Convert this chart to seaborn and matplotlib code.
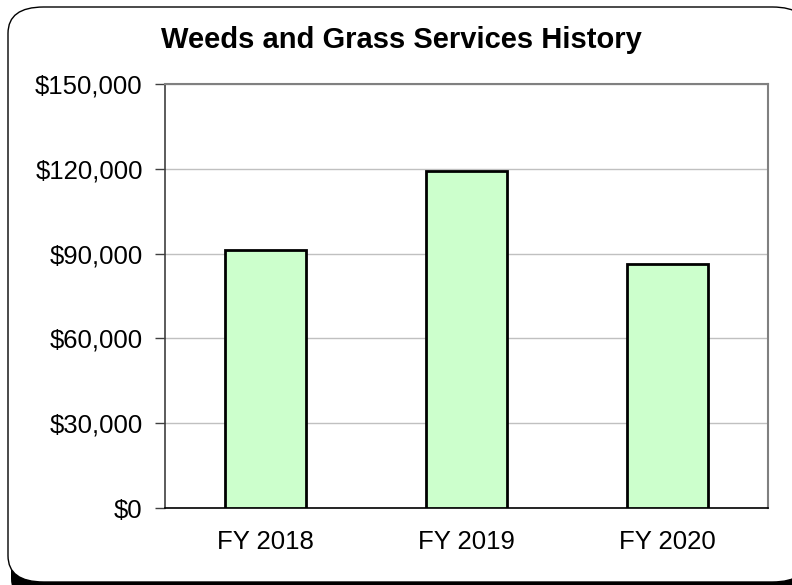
import matplotlib
matplotlib.use("Agg")
import matplotlib.pyplot as plt
import seaborn as sns
from matplotlib.patches import FancyBboxPatch
from matplotlib.ticker import FuncFormatter, FixedLocator

# Data
years = ['FY 2018', 'FY 2019', 'FY 2020']
costs = [91300, 119300, 86300]

sns.set_style('white')
plt.rcParams['font.family'] = ['Liberation Sans', 'DejaVu Sans']
plt.rcParams['text.color'] = 'black'
plt.rcParams['xtick.color'] = 'black'
plt.rcParams['ytick.color'] = 'black'

fig = plt.figure(figsize=(7.92, 5.85), dpi=100)
W, H = 792, 585

# Rounded border with shadow (figure pixel coordinates)
shadow = FancyBboxPatch((11 / W, -20 / H), 800 / W, 596 / H,
                        boxstyle='round,pad=0,rounding_size=0.045',
                        transform=fig.transFigure, facecolor='black',
                        edgecolor='none', zorder=0)
border = FancyBboxPatch((8 / W, 3 / H), 800 / W, 575 / H,
                        boxstyle='round,pad=0,rounding_size=0.045',
                        transform=fig.transFigure, facecolor='white',
                        edgecolor='black', linewidth=1, zorder=1)
fig.patches.extend([shadow, border])

ax = fig.add_axes([165 / W, 77 / H, 603 / W, 424 / H])
ax.set_zorder(2)

sns.barplot(x=years, y=costs, ax=ax, color='#CCFFCC', saturation=1,
            edgecolor='black', linewidth=2, width=0.4, zorder=3)

ax.set_ylim(0, 150000)
ax.set_xlim(-0.5, 2.5)
ax.yaxis.set_major_locator(FixedLocator([0, 30000, 60000, 90000, 120000, 150000]))
ax.yaxis.set_major_formatter(FuncFormatter(lambda v, p: f'${v:,.0f}'))
ax.grid(axis='y', color='#c0c0c0', linewidth=1, zorder=0)
ax.set_axisbelow(True)

ax.set_xticks([-0.5, 0.5, 1.5, 2.5], minor=True)
ax.tick_params(axis='x', which='major', length=0, labelsize=18.5, pad=16)
ax.tick_params(axis='x', which='minor', length=7, width=1, color='#404040', direction='out')
ax.tick_params(axis='y', length=7, width=1, color='#404040', direction='out',
               labelsize=18.5, left=True, pad=9)

for side in ['top', 'right']:
    ax.spines[side].set_color('#808080')
    ax.spines[side].set_linewidth(1.5)
ax.spines['left'].set_color('#404040')
ax.spines['left'].set_linewidth(1.2)
ax.spines['bottom'].set_color('black')
ax.spines['bottom'].set_linewidth(1.2)

ax.set_xlabel('')
ax.set_ylabel('')

fig.text(401 / W, 1 - 40 / H, 'Weeds and Grass Services History',
         ha='center', va='center', fontsize=21, fontweight='bold', zorder=3)

fig.savefig('out.png', dpi=100)
